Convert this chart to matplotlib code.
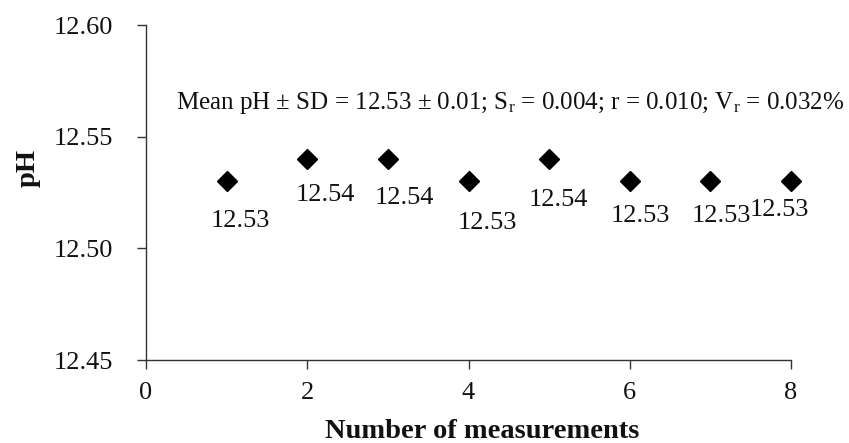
import matplotlib
matplotlib.use("Agg")
import matplotlib.pyplot as plt

plt.rcParams["font.family"] = ["Liberation Serif", "DejaVu Serif"]
plt.rcParams["mathtext.fontset"] = "custom"
plt.rcParams["mathtext.rm"] = "Liberation Serif"
plt.rcParams["mathtext.it"] = "Liberation Serif:italic"
plt.rcParams["mathtext.bf"] = "Liberation Serif:bold"

# Repeated pH measurements
measurement = [1, 2, 3, 4, 5, 6, 7, 8]
ph_values = [12.53, 12.54, 12.54, 12.53, 12.54, 12.53, 12.53, 12.53]

x_ticks = [0, 2, 4, 6, 8]
y_ticks = [12.45, 12.50, 12.55, 12.60]

summary = (r"Mean pH $\pm$ SD = 12.53 $\pm$ 0.01; S$_\mathrm{r}$ = 0.004; "
           r"r = 0.010; V$_\mathrm{r}$ = 0.032%")

# data-label offsets (pixels) from each marker
label_dx = [14, 18, 16, 19, 9, 11, 11, -12]
label_dy = [-46, -42, -45, -48, -47, -41, -41, -35]

fig = plt.figure(figsize=(8.49, 4.43), dpi=100)
ax = fig.add_axes([146 / 849, 1 - 360 / 443, (791 - 146) / 849, (360 - 25) / 443])

ax.plot(measurement, ph_values, linestyle="none", marker="D", markersize=10.5,
        color="black", clip_on=False)

for xv, yv, dx, dy in zip(measurement, ph_values, label_dx, label_dy):
    ax.annotate(f"{yv:.2f}", (xv, yv), xytext=(dx, dy), textcoords="offset pixels",
                ha="center", va="baseline", fontsize=19, color="#111111")

ax.set_xlim(0, 8)
ax.set_ylim(12.45, 12.60)
ax.set_xticks(x_ticks)
ax.set_yticks(y_ticks)
ax.set_yticklabels([f"{v:.2f}" for v in y_ticks])
ax.tick_params(axis="both", labelsize=19, length=6.5, width=1.0, color="#333333",
               labelcolor="#111111")
ax.tick_params(axis="y", pad=17)
ax.tick_params(axis="x", pad=9)

for side in ("top", "right"):
    ax.spines[side].set_visible(False)
for side in ("left", "bottom"):
    ax.spines[side].set_color("#333333")
    ax.spines[side].set_linewidth(1.0)

ax.text(0.37, 12.565, summary, fontsize=18, ha="left", va="center", color="#111111")

fig.text(28 / 849, 1 - 168 / 443, "pH", rotation=90, fontsize=20.5, fontweight="bold",
         ha="center", va="center", color="#111111")
fig.text(482 / 849, 1 - 431 / 443, "Number of measurements", fontsize=20.5,
         fontweight="bold", ha="center", va="center", color="#111111")

fig.savefig("out.png", dpi=100)
